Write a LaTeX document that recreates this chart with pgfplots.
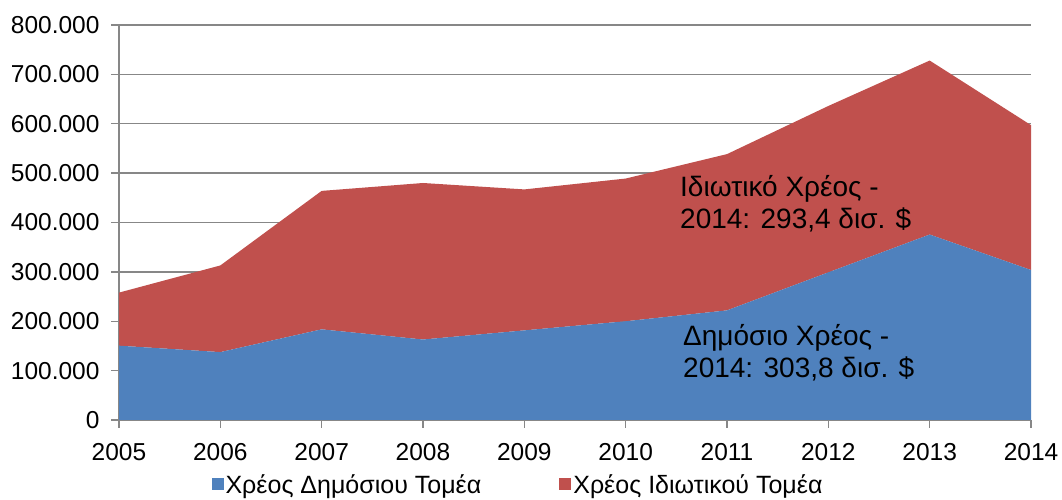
\documentclass[border=0pt]{standalone}
\usepackage{pgfplots}
\pgfplotsset{compat=1.18}
\usepackage{fontspec}
\setmainfont{Liberation Sans}
\definecolor{pubblue}{HTML}{4F81BD}
\definecolor{privred}{HTML}{C0504D}
\definecolor{gridgray}{HTML}{878787}
\begin{document}
\begin{tikzpicture}
\begin{axis}[
  name=main,
  scale only axis, width=912bp, height=395bp,
  xmin=2005, xmax=2014, ymin=0, ymax=800000,
  stack plots=y,
  axis lines*=left,
  axis line style={gridgray, line width=1.4bp, -},
  ymajorgrids, grid style={gridgray, line width=1.4bp},
  xtick={2005,2006,...,2014},
  xticklabels={2005,2006,2007,2008,2009,2010,2011,2012,2013,2014},
  ytick={0,100000,...,800000},
  scaled y ticks=false,
  yticklabel={\pgfmathprintnumber[fixed,precision=0,1000 sep={.},assume math mode=true]{\tick}},
  tick style={gridgray, line width=1.4bp},
  major tick length=8bp,
  tick align=outside,
  every tick label/.append style={font=\fontsize{24.5bp}{28bp}\selectfont, text=black},
  xticklabel style={yshift=-12bp},
  yticklabel style={xshift=-8bp},
  legend style={at={(0.4375,-0.132)}, anchor=north, draw=none, fill=none,
    legend columns=2, font=\fontsize{25bp}{26bp}\selectfont,
    /tikz/every even column/.append style={column sep=76bp},
    inner sep=0pt},
  legend image code/.code={\fill[#1] (0bp,-6bp) rectangle (12bp,6bp);},
]
\addplot[fill=pubblue, draw=none] coordinates {
(2005,150500) (2006,137500) (2007,183600) (2008,163000) (2009,181500)
(2010,200000) (2011,222000) (2012,299000) (2013,375600) (2014,303800)
} \closedcycle;
\addlegendentry{Χρέος Δημόσιου Τομέα}
\addplot[fill=privred, draw=none] coordinates {
(2005,107500) (2006,175500) (2007,280400) (2008,317000) (2009,285500)
(2010,289000) (2011,316500) (2012,337000) (2013,352400) (2014,293400)
} \closedcycle;
\addlegendentry{Χρέος Ιδιωτικού Τομέα}
\end{axis}
\node[anchor=west, align=left, inner sep=0pt, text=black, font=\fontsize{28bp}{32bp}\selectfont]
  at ([shift={(561bp,216bp)}]main.south west) {Ιδιωτικό Χρέος -\\2014: 293,4 δισ. \$};
\node[anchor=west, align=left, inner sep=0pt, text=black, font=\fontsize{28bp}{32bp}\selectfont]
  at ([shift={(564bp,67bp)}]main.south west) {Δημόσιο Χρέος -\\2014: 303,8 δισ. \$};
\pgfresetboundingbox
\path[use as bounding box] ([shift={(-119bp,-80bp)}]main.south west) rectangle ([shift={(31bp,25bp)}]main.north east);
\end{tikzpicture}
\end{document}
